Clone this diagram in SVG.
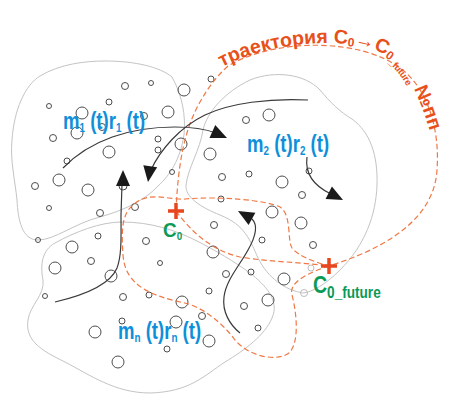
<svg xmlns="http://www.w3.org/2000/svg" xmlns:xlink="http://www.w3.org/1999/xlink" width="450" height="400" viewBox="0 0 450 400">
<style>
.blob{fill:none;stroke:#c4c4c4;stroke-width:1}
.c{fill:none;stroke:#4d4d4d;stroke-width:1}
.cl{fill:none;stroke:#bdbdbd;stroke-width:1}
.traj{fill:none;stroke:#f07845;stroke-width:1.2;stroke-dasharray:5.5 3}
.arr{fill:none;stroke:#3a3a3a;stroke-width:1.2}
.head{fill:#1a1a1a}
.lbl{font-family:"Liberation Sans",Arial,sans-serif;font-weight:bold;font-size:23.5px;fill:#0f8fda}
.sub{font-size:12.5px}
.grn{font-family:"Liberation Sans",Arial,sans-serif;font-weight:bold;fill:#0b9a57}
.plus{stroke:#e8461e;stroke-width:3.5;fill:none}
.tt{font-family:"Liberation Sans",Arial,sans-serif;font-weight:bold;font-size:19.5px;fill:#e8501a}
</style>
<defs>
<path id="ah" class="head" d="M0,0 L-16,-7 L-16,7 Z"/>
<path id="tp" d="M 222,67 C 266,43 348,34 384,54 C 402,65 413,82 425,116 L 434,143"/>
</defs>
<rect width="450" height="400" fill="#fff"/>
<g id="regions">
<path id="region1" class="blob" d="M105,61 C135,61 160,67 172,77 C182,95 186,115 184,135 C180,160 170,175 158,186 C145,200 125,210 100,217 C75,223 55,240 38,240 C22,240 18,220 17,200 C15,180 10,160 12,140 C14,110 25,85 40,76 C60,64 85,61 105,61 Z"/>
<path id="region2" class="blob" d="M203,130 C207,112 225,92 250,80 C275,70 305,74 320,90 C330,102 340,112 352,119 C370,132 378,155 377,185 C376,215 365,245 340,270 C325,285 312,292 303,293 C285,290 268,278 258,258 C250,240 245,225 220,215 C200,207 185,197 186,185 C188,168 200,150 203,130 Z"/>
<path id="regionn" class="blob" d="M122,222 C150,222 175,230 195,240 C215,250 235,262 250,273 C265,285 280,300 272,318 C265,335 245,350 225,362 C205,375 190,392 150,393 C115,393 90,375 65,362 C40,350 25,340 28,320 C30,305 45,295 43,280 C40,265 42,250 55,243 C75,232 100,222 122,222 Z"/>
</g>
<g id="particles">
<circle class="c" cx="151" cy="83" r="2.5"/>
<circle class="c" cx="125" cy="86" r="3.5"/>
<circle class="c" cx="211" cy="79" r="3"/>
<circle class="c" cx="49" cy="106" r="2.5"/>
<circle class="c" cx="109" cy="102" r="3"/>
<circle class="c" cx="144" cy="116" r="3.5"/>
<circle class="c" cx="102" cy="127" r="3.5"/>
<circle class="c" cx="53" cy="138" r="3.5"/>
<circle class="c" cx="158" cy="139" r="3"/>
<circle class="c" cx="158" cy="150" r="3"/>
<circle class="c" cx="67" cy="161" r="3"/>
<circle class="c" cx="172" cy="172" r="2.5"/>
<circle class="c" cx="222" cy="177" r="3.5"/>
<circle class="c" cx="249" cy="174" r="3"/>
<circle class="c" cx="246" cy="120" r="3.5"/>
<circle class="c" cx="309" cy="171" r="3"/>
<circle class="c" cx="302" cy="195" r="3.5"/>
<circle class="c" cx="35" cy="186" r="3.5"/>
<circle class="c" cx="123" cy="186" r="4"/>
<circle class="c" cx="49" cy="208" r="2.5"/>
<circle class="c" cx="100" cy="213" r="3.5"/>
<circle class="c" cx="135" cy="207" r="3.5"/>
<circle class="c" cx="221" cy="199" r="3"/>
<circle class="c" cx="38" cy="240" r="2.5"/>
<circle class="c" cx="98" cy="236" r="3"/>
<circle class="c" cx="146" cy="241" r="3.5"/>
<circle class="c" cx="214" cy="225" r="3.5"/>
<circle class="c" cx="91" cy="261" r="3.5"/>
<circle class="c" cx="160" cy="263" r="2.5"/>
<circle class="c" cx="262" cy="240" r="3"/>
<circle class="c" cx="313" cy="245" r="3.5"/>
<circle class="c" cx="45" cy="296" r="2.5"/>
<circle class="c" cx="123" cy="297" r="3.5"/>
<circle class="c" cx="149" cy="295" r="3"/>
<circle class="c" cx="209" cy="291" r="3"/>
<circle class="c" cx="226" cy="274" r="3.5"/>
<circle class="c" cx="251" cy="272" r="3"/>
<circle class="c" cx="202" cy="316" r="3.5"/>
<circle class="c" cx="122" cy="321" r="3"/>
<circle class="c" cx="244" cy="306" r="3.5"/>
<circle class="c" cx="167" cy="349" r="3"/>
<circle class="c" cx="258" cy="328" r="3"/>
<circle class="cl" cx="311" cy="268" r="3"/>
<circle class="cl" cx="304" cy="293" r="3.5"/>
<circle class="c" cx="184" cy="90" r="6"/>
<circle class="c" cx="168" cy="112" r="6"/>
<circle class="c" cx="82" cy="113" r="6"/>
<circle class="c" cx="77" cy="133" r="6"/>
<circle class="c" cx="109" cy="152" r="6"/>
<circle class="c" cx="181" cy="144" r="6"/>
<circle class="c" cx="210" cy="154" r="6"/>
<circle class="c" cx="269" cy="115" r="6"/>
<circle class="c" cx="282" cy="182" r="6"/>
<circle class="c" cx="59" cy="180" r="6"/>
<circle class="c" cx="88" cy="190" r="6"/>
<circle class="c" cx="72" cy="247" r="6"/>
<circle class="c" cx="55" cy="268" r="6"/>
<circle class="c" cx="111" cy="276" r="6"/>
<circle class="c" cx="213" cy="252" r="6"/>
<circle class="c" cx="272" cy="212" r="6"/>
<circle class="c" cx="301" cy="223" r="6"/>
<circle class="c" cx="284" cy="279" r="6"/>
<circle class="c" cx="268" cy="300" r="6"/>
<circle class="c" cx="182" cy="302" r="6"/>
<circle class="c" cx="176" cy="322" r="6"/>
<circle class="c" cx="95" cy="332" r="6"/>
<circle class="c" cx="209" cy="341" r="6"/>
<circle class="c" cx="118" cy="362" r="6"/>
</g>
<g id="trajectories">
<path class="traj" d="M176,211 C178,165 184,130 200,102 C208,88 215,78 228,66 C275,38 360,38 400,68 C428,88 440,130 437,170 C434,222 380,250 329,266"/>
<path class="traj" d="M176,211 C190,230 210,250 240,257 C270,262 300,262 329,266"/>
<path class="traj" d="M329,266 C310,272 288,282 292,295 C296,310 300,340 290,352 C280,362 250,358 235,340 C222,322 200,305 180,302 C150,295 125,285 123,255 C121,225 122,210 140,200 C155,193 170,200 185,199 C220,196 265,200 280,207 C292,215 287,240 292,248 C298,256 315,262 329,266 Z"/>
</g>
<g id="connectors">
<path class="arr" d="M63,168 C90,140 130,127 175,127 C195,127 208,130 216,133"/>
<use href="#ah" transform="translate(227,138) rotate(24)"/>
<path class="arr" d="M308,100 C270,98 230,103 205,115 C180,127 160,150 151,170"/>
<use href="#ah" transform="translate(148,182) rotate(98)"/>
<path class="arr" d="M307,157 C305,172 312,185 331,194"/>
<use href="#ah" transform="translate(343,200) rotate(27)"/>
<path class="arr" d="M55,302 C85,295 110,285 117,268 C122,255 121,235 121,215 L122,184"/>
<use href="#ah" transform="translate(123,170) rotate(-90)"/>
<path class="arr" d="M240,333 C230,325 222,312 224,297 C226,280 240,265 248,250 C256,236 258,225 252,219"/>
<use href="#ah" transform="translate(238,211) rotate(209)"/>
</g>
<g id="labels">
<text class="lbl" transform="translate(63,129) scale(0.79,1)">m<tspan class="sub" dy="3">1</tspan><tspan dy="-3"> (t)r</tspan><tspan class="sub" dy="3">1</tspan><tspan dy="-3"> (t)</tspan></text>
<text class="lbl" transform="translate(247,152) scale(0.79,1)">m<tspan class="sub" dy="3">2</tspan><tspan dy="-3"> (t)r</tspan><tspan class="sub" dy="3">2</tspan><tspan dy="-3"> (t)</tspan></text>
<text class="lbl" transform="translate(118,339) scale(0.79,1)">m<tspan class="sub" dy="3">n</tspan><tspan dy="-3"> (t)r</tspan><tspan class="sub" dy="3">n</tspan><tspan dy="-3"> (t)</tspan></text>
<text class="tt"><textPath href="#tp">траектория C<tspan font-size="12" dy="2">0</tspan><tspan dy="-2">→</tspan>C<tspan font-size="12" dy="2">0</tspan><tspan font-size="9.5" dy="3">_future</tspan><tspan dy="-5"> №пп</tspan></textPath></text>
</g>
<g id="C0">
<path class="plus" d="M168,211 H184 M176,203 V219"/>
<text class="grn" transform="translate(163,237) scale(0.9,1)" font-size="21">C<tspan font-size="11" dy="3">0</tspan></text>
</g>
<g id="C0_future">
<path class="plus" d="M321,266 H337 M329,258 V274"/>
<text class="grn" transform="translate(313,293) scale(0.85,1)" font-size="23">C<tspan font-size="16" dy="5">0_future</tspan></text>
</g>
</svg>
